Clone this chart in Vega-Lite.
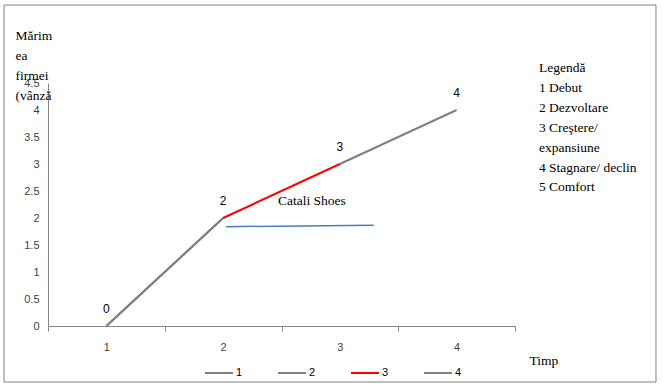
{
  "$schema": "https://vega.github.io/schema/vega-lite/v6.json",
  "width": 467,
  "height": 243,
  "autosize": {"type": "none"},
  "padding": {"left": 48, "top": 83, "right": 148, "bottom": 63},
  "background": "white",
  "config": {"view": {"stroke": null}, "axis": {"labelOverlap": false}},
  "datasets": {
    "lines": [
      {"x": 1, "y": 0, "series": "1"},
      {"x": 2, "y": 2, "series": "1"},
      {"x": 1, "y": 0, "series": "2"},
      {"x": 2, "y": 2, "series": "2"},
      {"x": 3, "y": 3, "series": "4"},
      {"x": 4, "y": 4, "series": "4"},
      {"x": 2, "y": 2, "series": "3"},
      {"x": 3, "y": 3, "series": "3"}
    ],
    "points": [
      {"x": 1, "y": 0, "label": "0"},
      {"x": 2, "y": 2, "label": "2"},
      {"x": 3, "y": 3, "label": "3"},
      {"x": 4, "y": 4, "label": "4"}
    ],
    "blue": [
      {"x": 2.025, "y": 1.84},
      {"x": 3.29, "y": 1.865}
    ],
    "notes": [
      {"x": 2.47, "y": 2.315, "label": "Catali Shoes"},
      {"x": 4.705, "y": 4.778, "label": "Legendă"},
      {"x": 4.705, "y": 4.407, "label": "1 Debut"},
      {"x": 4.705, "y": 4.037, "label": "2 Dezvoltare"},
      {"x": 4.705, "y": 3.667, "label": "3 Creştere/"},
      {"x": 4.705, "y": 3.296, "label": "expansiune"},
      {"x": 4.705, "y": 2.926, "label": "4 Stagnare/ declin"},
      {"x": 4.705, "y": 2.574, "label": "5 Comfort"}
    ],
    "frame": [
      {"x": 0.1231, "x2": 5.7077, "y": 5.944, "y2": -1.037}
    ]
  },
  "layer": [
    {
      "data": {"name": "lines"},
      "mark": {"type": "line", "strokeWidth": 2},
      "encoding": {
        "x": {
          "field": "x", "type": "quantitative",
          "scale": {"domain": [0.5, 4.5], "nice": false, "zero": false},
          "axis": {
            "title": "Timp",
            "values": [0.5, 1.5, 2.5, 3.5, 4.5],
            "labelExpr": "datum.value < 4 ? format(datum.value + 0.5, 'd') : ''",
            "labelOffset": 58.375,
            "labelOverlap": false,
            "labelFlush": false,
            "labelBound": false,
            "tickSize": 5,
            "tickColor": "#868686",
            "domainColor": "#868686",
            "grid": false,
            "labelPadding": 10,
            "labelFont": "Liberation Sans",
            "labelFontSize": 11,
            "labelColor": "#404040",
            "titleFont": "Liberation Serif",
            "titleFontSize": 13.5,
            "titleFontWeight": "normal",
            "titleColor": "black",
            "titleAlign": "left",
            "titleBaseline": "middle",
            "titleX": 481,
            "titleY": 34
          }
        },
        "y": {
          "field": "y", "type": "quantitative",
          "scale": {"domain": [0, 4.5], "nice": false},
          "axis": {
            "title": ["Mărim", "ea", "firmei", "(vânză"],
            "tickCount": 9,
            "labelExpr": "datum.value == floor(datum.value) ? format(datum.value, 'd') : format(datum.value, '.1f')",
            "ticks": false,
            "grid": false,
            "domainColor": "#868686",
            "labelPadding": 9,
            "labelFont": "Liberation Sans",
            "labelFontSize": 11,
            "labelColor": "#404040",
            "labelOverlap": false,
            "labelFlush": false,
            "labelBound": false,
            "titleFont": "Liberation Serif",
            "titleFontSize": 13.5,
            "titleFontWeight": "normal",
            "titleColor": "black",
            "titleAngle": 0,
            "titleAlign": "left",
            "titleBaseline": "alphabetic",
            "titleLineHeight": 20,
            "titleX": -33,
            "titleY": -44
          }
        },
        "color": {
          "field": "series", "type": "nominal",
          "scale": {"domain": ["1", "2", "3", "4"], "range": ["#808080", "#808080", "#ff0000", "#808080"]},
          "legend": {
            "title": null,
            "orient": "none",
            "direction": "horizontal",
            "columns": 4,
            "legendX": 156,
            "legendY": 275,
            "symbolType": "stroke",
            "symbolSize": 784,
            "symbolStrokeWidth": 2,
            "labelFont": "Liberation Sans",
            "labelFontSize": 11,
            "labelColor": "black",
            "labelOffset": 2,
            "columnPadding": 31,
            "padding": 0
          }
        }
      }
    },
    {
      "data": {"name": "frame"},
      "mark": {"type": "rect", "fill": "transparent", "stroke": "#808080", "strokeWidth": 1},
      "encoding": {
        "x": {"field": "x", "type": "quantitative", "scale": {"domain": [0.5, 4.5], "nice": false, "zero": false}},
        "x2": {"field": "x2"},
        "y": {"field": "y", "type": "quantitative", "scale": {"domain": [0, 4.5], "nice": false}},
        "y2": {"field": "y2"}
      }
    },
    {
      "data": {"name": "blue"},
      "mark": {"type": "line", "color": "#4a7ebb", "strokeWidth": 1.5},
      "encoding": {
        "x": {"field": "x", "type": "quantitative", "scale": {"domain": [0.5, 4.5], "nice": false, "zero": false}},
        "y": {"field": "y", "type": "quantitative", "scale": {"domain": [0, 4.5], "nice": false}}
      }
    },
    {
      "data": {"name": "points"},
      "mark": {"type": "text", "dy": -17, "font": "Liberation Sans", "fontSize": 12, "color": "black", "baseline": "middle", "align": "center"},
      "encoding": {
        "x": {"field": "x", "type": "quantitative", "scale": {"domain": [0.5, 4.5], "nice": false, "zero": false}},
        "y": {"field": "y", "type": "quantitative", "scale": {"domain": [0, 4.5], "nice": false}},
        "text": {"field": "label"}
      }
    },
    {
      "data": {"name": "notes"},
      "mark": {"type": "text", "font": "Liberation Serif", "fontSize": 13.5, "color": "black", "baseline": "middle", "align": "left"},
      "encoding": {
        "x": {"field": "x", "type": "quantitative", "scale": {"domain": [0.5, 4.5], "nice": false, "zero": false}},
        "y": {"field": "y", "type": "quantitative", "scale": {"domain": [0, 4.5], "nice": false}},
        "text": {"field": "label"}
      }
    }
  ]
}
